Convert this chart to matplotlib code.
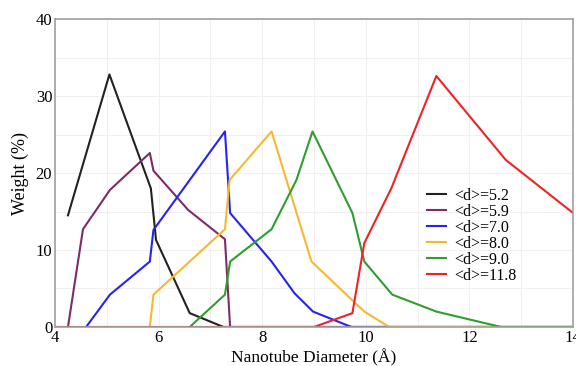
import matplotlib
matplotlib.use("Agg")
import matplotlib.pyplot as plt

# diameter distributions (Angstrom, weight %)
x_52 = [4.25, 5.05, 5.85, 5.95, 6.6, 7.25, 14.0]
y_52 = [14.5, 32.8, 18.0, 11.3, 1.8, 0.0, 0.0]

x_59 = [4.25, 4.54, 5.06, 5.83, 5.9, 6.57, 7.28, 7.38, 14.0]
y_59 = [0.0, 12.7, 17.8, 22.6, 20.3, 15.2, 11.4, 0.0, 0.0]

x_70 = [4.6, 5.06, 5.83, 5.9, 7.28, 7.38, 8.18, 8.62, 8.98, 9.72, 14.0]
y_70 = [0.0, 4.2, 8.5, 12.6, 25.4, 14.8, 8.5, 4.4, 2.0, 0.0, 0.0]

x_80 = [5.83, 5.9, 7.28, 7.37, 8.18, 8.95, 9.97, 10.45, 14.0]
y_80 = [0.0, 4.2, 12.7, 19.1, 25.4, 8.5, 2.0, 0.0, 0.0]

x_90 = [6.6, 7.28, 7.38, 8.18, 8.66, 8.97, 9.74, 9.97, 10.51, 11.36, 12.61, 14.0]
y_90 = [0.0, 4.2, 8.5, 12.7, 19.1, 25.4, 14.8, 8.5, 4.2, 2.0, 0.0, 0.0]

x_118 = [4.0, 9.0, 9.74, 9.97, 10.49, 11.36, 12.7, 14.0]
y_118 = [0.0, 0.0, 1.8, 10.9, 18.0, 32.6, 21.7, 14.8]

labels = ["<d>=5.2", "<d>=5.9", "<d>=7.0", "<d>=8.0", "<d>=9.0", "<d>=11.8"]
colors = ["#222222", "#7d2c66", "#2424f0", "#f7b733", "#2e9e2e", "#ee2424"]
series = [(x_52, y_52), (x_59, y_59), (x_70, y_70), (x_80, y_80), (x_90, y_90), (x_118, y_118)]

plt.rcParams["font.family"] = ["Liberation Serif", "DejaVu Serif"]

fig = plt.figure(figsize=(5.76, 3.66), dpi=100)
ax = fig.add_axes([0.0955, 0.1066, 0.8995, 0.8414])

for (xs, ys), c, lab in zip(series, colors, labels):
    ax.plot(xs, ys, color=c, lw=1.5, label=lab)

ax.set_xlim(4, 14)
ax.set_ylim(0, 40)
ax.set_xticks([4, 6, 8, 10, 12, 14])
ax.set_yticks([0, 10, 20, 30, 40])
ax.set_xticks(range(4, 15), minor=True)
ax.set_yticks(range(0, 41, 5), minor=True)
ax.grid(which="both", color="#f0f0f0", lw=0.8)
ax.set_axisbelow(True)
ax.tick_params(which="both", length=0, labelsize=12, pad=2)
for sp in ax.spines.values():
    sp.set_color("#a0a0a0")
    sp.set_linewidth(1.2)

ax.set_xlabel("Nanotube Diameter (Å)", fontsize=12.5, labelpad=2)
ax.set_ylabel("Weight (%)", fontsize=13, labelpad=5)

ax.legend(loc="upper left", bbox_to_anchor=(0.705, 0.472), frameon=False,
          fontsize=11.5, handlelength=1.2, handletextpad=0.5, labelspacing=0.0,
          borderaxespad=0)

fig.savefig("out.png", dpi=100)
